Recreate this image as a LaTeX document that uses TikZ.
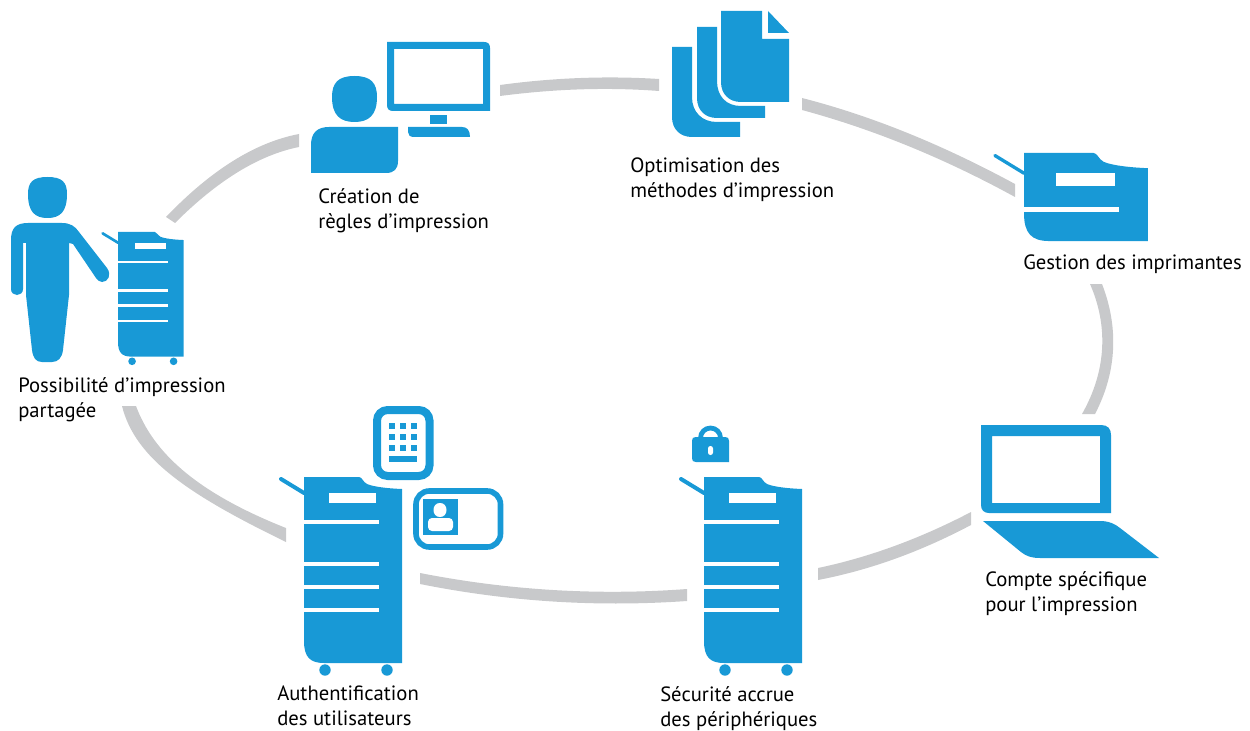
\documentclass[tikz,border=0pt]{standalone}
\usepackage{fontspec}
\setmainfont{PT Sans}
\definecolor{iconblue}{HTML}{1899D6}
\definecolor{ringgray}{HTML}{C8C9CB}
\newcommand{\printerbody}[2]{
  \draw[iconblue,line cap=round] (-23,2)--(0,16);
  \fill[icon] (0,0)--(55,0) .. controls (58,0) and (59,5) .. (63,7) .. controls (70,10) and (85,11.5) .. (98,12)
    --(98,#1)--(20,#1) .. controls (6,#1) and (0,#1-6) .. (0,#1-22)--cycle;
  \fill[hole] (25,16) rectangle (72,26);
  \foreach \slot in {#2} \fill[hole] (0,\slot) rectangle (75,\slot+4);
}
\tikzset{
  x=.75pt,y=-.75pt,
  ring/.style={fill=ringgray},
  icon/.style={fill=iconblue},
  hole/.style={fill=white},
  label/.style={anchor=north west,inner sep=0pt,align=left,font=\fontsize{15.5}{18.75}\selectfont},
  pics/shortprinter/.style={code={\printerbody{69.6}{43}}},
  pics/printer/.style={code={
    \printerbody{186}{43,85,108,131}
    \fill[icon] (21,193) circle (5.7) (83,193) circle (5.7);
  }},
}
\begin{document}
\begin{tikzpicture}
\useasboundingbox (0,0) rectangle (1250,731);
\fill[ring] (299,134) .. controls (255.3,142.3) and (211,170) .. (166,217)--(175,223) .. controls (217.7,180.3) and (259,155) .. (299,147)--cycle;
\fill[ring] (500,85) .. controls (553.7,77.7) and (606.7,75.7) .. (659,79)--(659,91) .. controls (606.7,87) and (553.7,89) .. (500,96)--cycle;
\fill[ring] (802,98) .. controls (872.3,116) and (943,145) .. (1015,184)--(1015,197) .. controls (943.3,157.7) and (872.3,129) .. (802,110)--cycle;
\fill[ring] (1102,284) .. controls (1118,325) and (1118,370) .. (1095,414)--(1082,414) .. controls (1107,370) and (1108,325) .. (1090,284)--cycle;
\fill[ring] (971,512) .. controls (920,538.7) and (869,557.3) .. (818,568)--(818,580) .. controls (869,570.3) and (920,552) .. (971,525)--cycle;
\fill[ring] (420,573) .. controls (508.3,590.3) and (597.3,595.7) .. (687,589)--(687,601) .. controls (597.3,607.3) and (508.3,601.7) .. (420,584)--cycle;
\fill[ring] (136,406) .. controls (152.7,450.7) and (193.3,491.3) .. (286,528)--(286,542) .. controls (190,495.3) and (135.3,459.3) .. (122,406)--cycle;
% person with printer
\fill[icon] (47.5,177) .. controls (62,177) and (67,182) .. (67,194) .. controls (67,212) and (60,218) .. (47.5,218)
  .. controls (35,218) and (28,212) .. (28,194) .. controls (28,182) and (33,177) .. (47.5,177)--cycle;
\fill[icon] (11,240) .. controls (11,228) and (16,223) .. (28,223)--(62,223) .. controls (70,223) and (75,226) .. (79,232)
  --(107,268) .. controls (112,275) and (108,282) .. (102,282) .. controls (99,282) and (98,280) .. (96,278)
  --(73,244)--(69,243)--(69,295)--(63,350) .. controls (62,358) and (58,362) .. (52,362)--(42,362)
  .. controls (36,362) and (33,358) .. (32,350)--(26,295)--(26,243)--(23,243)--(23,289)
  .. controls (23,297) and (11,297) .. (11,289)--cycle;
\pic[scale=.67,line width=2pt] at (118,232) {printer};
\node[label] (shared) at (18,377) {Possibilité d’impression\\partagée};
% person at screen
\fill[icon] (354.5,76) .. controls (371,76) and (377,83) .. (377,97) .. controls (377,115) and (369,122) .. (354.5,122)
  .. controls (340,122) and (332,115) .. (332,97) .. controls (332,83) and (338,76) .. (354.5,76)--cycle;
\fill[icon] (329,127)--(398,127)--(398,161) .. controls (398,169) and (394,173) .. (386,173)--(311,173)--(311,145) .. controls (311,133) and (317,127) .. (329,127)--cycle;
\fill[icon,even odd rule] (387,42)--(484,42) .. controls (488,42) and (490,44) .. (490,48)--(490,111)--(393,111) .. controls (389,111) and (387,109) .. (387,105)--cycle
  (394,49) rectangle (483,104);
\fill[icon] (430,115) rectangle (447,124);
\fill[icon] (408,127)--(462,127) .. controls (467,127) and (470,130) .. (470,137)--(414,137) .. controls (410,137) and (408,135) .. (408,132)--cycle;
\node[label] (rules) at (318,188) {Création de\\règles d’impression};
% stack of pages
\fill[icon] (672,47)--(692,47)--(692,97) .. controls (692,112) and (702,122) .. (717,122)--(740,122)--(740,137)--(692,137) .. controls (680,137) and (672,129) .. (672,117)--cycle;
\fill[icon] (697,27)--(717,27)--(717,81) .. controls (717,96) and (726,106) .. (741,106)--(765,106)--(765,118)--(717,118) .. controls (705,118) and (697,110) .. (697,98)--cycle;
\fill[icon] (721,11)--(762,11)--(762,39)--(789,39)--(789,102)--(741,102) .. controls (729,102) and (721,94) .. (721,82)--cycle;
\fill[icon] (768,11)--(789,33)--(768,33)--cycle;
\node[label] (methods) at (630,158) {Optimisation des\\méthodes d’impression};
% short printer
\pic[scale=1.265,line width=2.5pt] at (1024,153) {shortprinter};
\node[label] (manage) at (1023,255) {Gestion des imprimantes};
% laptop
\fill[icon,even odd rule] (981,425)--(1101,425) .. controls (1108,425) and (1111,429) .. (1111,435)--(1111,513)--(989,513) .. controls (984,513) and (981,510) .. (981,505)--cycle
  (992,436) rectangle (1100,503);
\fill[icon] (983,521)--(1100,521) .. controls (1109,521) and (1115,524) .. (1120,528)--(1159,558)--(1040,558) .. controls (1031,558) and (1026,556) .. (1021,552)--cycle;
\node[label] (account) at (985,571) {Compte spécifique\\pour l’impression};
% printer with lock
\draw[iconblue,line width=3.6pt] (700.5,440)--(700.5,438) arc[start angle=180,end angle=360,radius=10]--(720.5,440);
\fill[icon] (696,437)--(725,437) .. controls (728,437) and (729,438) .. (729,441)--(729,462)--(696,462) .. controls (693,462) and (692,461) .. (692,458)--(692,441) .. controls (692,438) and (693,437) .. (696,437)--cycle;
\fill[hole,rounded corners=1.8pt] (708,446) rectangle (713,455);
\pic[line width=3pt] at (704,477) {printer};
\node[label] (secure) at (660,686) {Sécurité accrue\\des périphériques};
% printer with keypad and card
\pic[line width=3pt] at (304,477) {printer};
\draw[iconblue,line width=6pt,rounded corners=8pt] (377,410) rectangle (429.5,476);
\foreach \row in {423,434,445}
  \foreach \col in {389,400,411}
    \fill[icon] (\col,\row) rectangle (\col+6.4,\row+6.4);
\fill[icon] (389,456) rectangle (417.4,462.4);
\draw[iconblue,line width=4.2pt,rounded corners=10pt] (416,491) rectangle (500.5,547);
\fill[icon] (423,499) rectangle (458,535);
\fill[hole] (440,503) .. controls (444,503) and (446.5,506) .. (446.5,510) .. controls (446.5,514) and (444,517) .. (440,517) .. controls (436,517) and (433.5,514) .. (433.5,510) .. controls (433.5,506) and (436,503) .. (440,503)--cycle;
\fill[hole,rounded corners=3pt] (428,518) rectangle (453,531);
\node[label] (users) at (277,686) {Authentification\\des utilisateurs};
\end{tikzpicture}
\end{document}
